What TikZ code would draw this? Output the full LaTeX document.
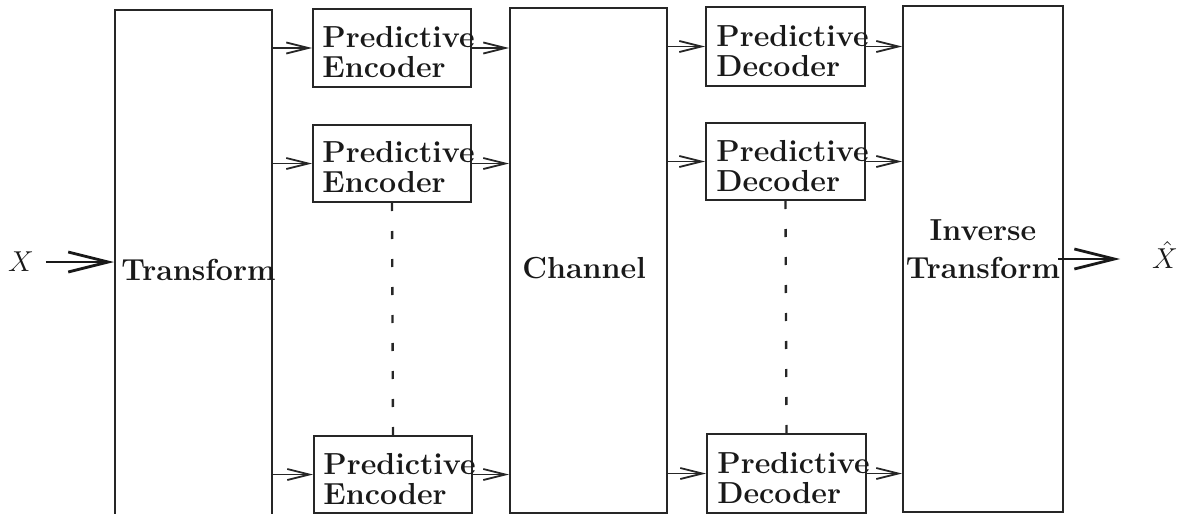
\documentclass[tikz,border=0pt]{standalone}
\usetikzlibrary{arrows.meta}
\begin{document}
\begin{tikzpicture}[x=0.5pt,y=-0.5pt,
  box/.style={draw=black!85, line width=1pt, rectangle, inner sep=0pt},
  sized/.style 2 args={minimum width=#1*0.5pt, minimum height=#2*0.5pt},
  lbl/.style={font=\fontsize{15.2}{15}\selectfont\bfseries, text=black!90, inner sep=0pt, align=left},
  sym/.style={font=\fontsize{15}{15}\selectfont, text=black!90},
  link/.style={draw=black!85, line width=0.9pt, -{Straight Barb[length=11pt,width=5.5pt]}},
  bigarrow/.style={draw=black!90, line width=1.4pt, -{Straight Barb[length=20pt,width=10pt]}},
  dots/.style={draw=black!85, line width=1.2pt, dash pattern=on 4pt off 10pt},
]
\useasboundingbox (0,0) rectangle (1191,514);
\clip (0,0) rectangle (1191,514);

% blocks
\node[box, sized={157}{520}] (tr)   at (193.5,270)   {};
\node[box, sized={158}{78}]  (enc1) at (392,48)      {};
\node[box, sized={158}{77}]  (enc2) at (392,163.5)   {};
\node[box, sized={158}{77}]  (enc3) at (393,474.5)   {};
\node[box, sized={157}{505}] (ch)   at (588.5,260.5) {};
\node[box, sized={159}{79}]  (dec1) at (785.5,46.5)  {};
\node[box, sized={159}{77}]  (dec2) at (785.5,161.5) {};
\node[box, sized={159}{79}]  (dec3) at (786.5,473.5) {};
\node[box, sized={160}{506}] (inv)  at (983,259)     {};

% block labels
\node[lbl, anchor=west] (trt)   at ([xshift=3.5pt]tr.west) {Transform};
\node[lbl, anchor=west] (enc1t) at ([xshift=5pt,yshift=-2pt]enc1.west) {Predictive\\Encoder};
\node[lbl, anchor=west] (enc2t) at ([xshift=5pt,yshift=-2pt]enc2.west) {Predictive\\Encoder};
\node[lbl, anchor=west] (enc3t) at ([xshift=5pt,yshift=-2.5pt]enc3.west) {Predictive\\Encoder};
\node[lbl, anchor=west] (cht)   at ([xshift=6.5pt,yshift=-3.75pt]ch.west) {Channel};
\node[lbl, anchor=west] (dec1t) at ([xshift=5.5pt,yshift=-2.2pt]dec1.west) {Predictive\\Decoder};
\node[lbl, anchor=west] (dec2t) at ([xshift=5.5pt,yshift=-2.2pt]dec2.west) {Predictive\\Decoder};
\node[lbl, anchor=west] (dec3t) at ([xshift=5.5pt,yshift=-2.5pt]dec3.west) {Predictive\\Decoder};
\node[lbl, align=center, font=\fontsize{15.2}{19}\selectfont\bfseries] (invt)
  at ([yshift=5pt]inv.center) {Inverse\\Transform};

% input and output symbols
\node[sym] (xin)  at (21,262)   {$X$};
\node[sym] (xout) at (1165,255) {$\hat{X}$};

% input / output arrows
\draw[bigarrow, shorten <=2.5pt] (xin.east) -- (xin.east -| tr.west);
\draw[bigarrow, shorten <=-3pt, shorten >=12.5pt] (inv.east) -- (inv.east -| xout.west);

% transform -> encoders
\draw[link] (tr.east |- enc1.west) -- (enc1.west);
\draw[link] (tr.east |- enc2.west) -- (enc2.west);
\draw[link] (tr.east |- enc3.west) -- (enc3.west);
% encoders -> channel
\draw[link] (enc1.east) -- (enc1.east -| ch.west);
\draw[link] (enc2.east) -- (enc2.east -| ch.west);
\draw[link] (enc3.east) -- (enc3.east -| ch.west);
% channel -> decoders
\draw[link] (ch.east |- dec1.west) -- (dec1.west);
\draw[link] (ch.east |- dec2.west) -- (dec2.west);
\draw[link] (ch.east |- dec3.west) -- (dec3.west);
% decoders -> inverse transform
\draw[link] (dec1.east) -- (dec1.east -| inv.west);
\draw[link] (dec2.east) -- (dec2.east -| inv.west);
\draw[link] (dec3.east) -- (dec3.east -| inv.west);

% elided branches
\draw[dots] (enc2.south) -- (enc3.north);
\draw[dots] (dec2.south) -- (dec3.north);
\end{tikzpicture}
\end{document}
